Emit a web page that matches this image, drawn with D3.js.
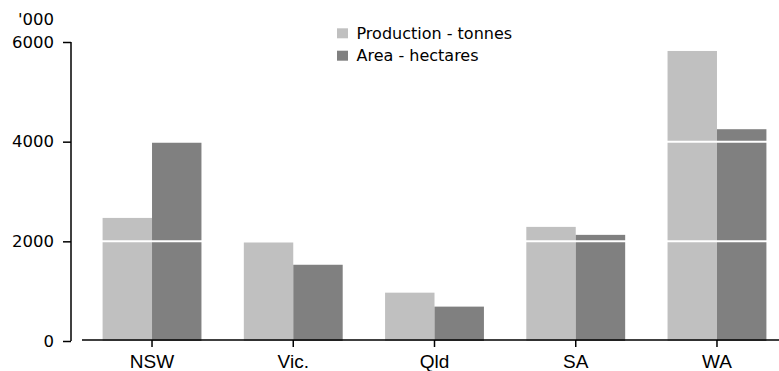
<!DOCTYPE html>
<html><head><meta charset="utf-8">
<script src="https://cdn.jsdelivr.net/npm/d3@7"></script>
<style>body{margin:0;background:#fff}svg{display:block}text{font-family:"DejaVu Sans",sans-serif;fill:#000}</style>
</head><body><svg id="c" width="779" height="371"></svg>
<script>
const categories = ["NSW","Vic.","Qld","SA","WA"];
const production = [2470,1980,970,2290,5820];
const area = [4010,1530,690,2130,4250];
const seriesNames = ["Production - tonnes","Area - hectares"];
const yTicks = [0,2000,4000,6000];
const colors = ["#c0c0c0","#808080"];

const svg = d3.select("#c");
const y = d3.scaleLinear().domain([0,6000]).range([341,42]);
const x = d3.scaleBand().domain(categories).range([81.4,787.6]).paddingInner(0.3).paddingOuter(0.15);
const x1 = d3.scaleBand().domain([0,1]).range([0,x.bandwidth()]);

const data = [production, area];
categories.forEach((c,i)=>{
  data.forEach((s,j)=>{
    svg.append("rect").attr("x",x(c)+x1(j)).attr("width",x1.bandwidth())
      .attr("y",y(s[i])).attr("height",y(0)-y(s[i])).attr("fill",colors[j]);
  });
});

// white gridlines over bars
svg.selectAll(".grid").data([2000,4000]).enter().append("line")
  .attr("x1",82).attr("x2",779).attr("y1",d=>y(d)).attr("y2",d=>y(d))
  .attr("stroke","#fff").attr("stroke-width",2);

// y axis
const ya = svg.append("g").attr("transform","translate(71,0)")
  .call(d3.axisLeft(y).tickValues(yTicks).tickSize(8).tickPadding(9).tickFormat(d3.format("d")));
ya.select(".domain").attr("d","M0,"+y(6000)+"V"+y(0)).attr("stroke-width",1.5);
ya.selectAll(".tick line").attr("stroke-width",1.5);
ya.selectAll("text").style("font-size","16.5px").attr("font-family",null);

svg.append("text").attr("x",54).attr("y",25).attr("text-anchor","end").style("font-size","16.5px").text("'000");

// x axis
const xa = svg.append("g").attr("transform","translate(0,340)")
  .call(d3.axisBottom(x).tickSize(7));
xa.select(".domain").attr("d","M82,0H779").attr("stroke-width",1.5);
xa.selectAll(".tick line").attr("stroke-width",1.5);
xa.selectAll("text").attr("y",28).attr("dy",null).attr("font-family",null)
  .style("font-family","'Liberation Sans',Arial,sans-serif").style("font-size","19px");

// legend
seriesNames.forEach((n,j)=>{
  const ly = 28.3 + j*22.4;
  svg.append("rect").attr("x",337).attr("y",ly).attr("width",11).attr("height",10).attr("fill",colors[j]);
  svg.append("text").attr("x",356.5).attr("y",ly+10.7).style("font-size","16px").text(n);
});
</script></body></html>
